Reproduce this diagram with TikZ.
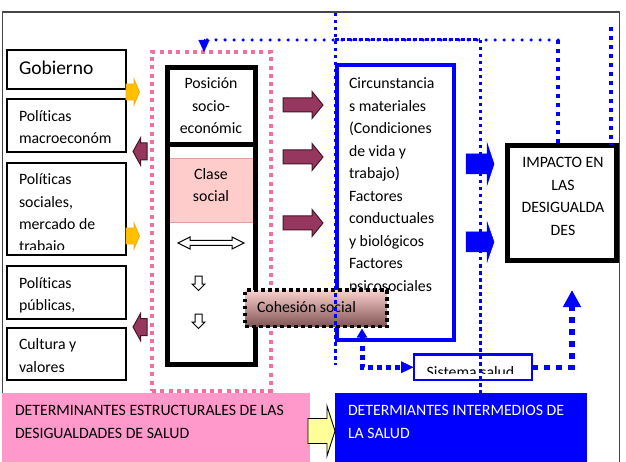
\documentclass[tikz,border=0pt]{standalone}
\usepackage{fontspec}
\setmainfont{Carlito}[Ligatures={NoCommon}]
\usetikzlibrary{arrows.meta,fit}
\definecolor{pinkdot}{RGB}{240,112,160}
\definecolor{clasefill}{RGB}{255,204,204}
\definecolor{claseedge}{RGB}{225,160,160}
\definecolor{mymaroon}{RGB}{150,55,95}
\definecolor{maroonedge}{RGB}{70,20,40}
\definecolor{goldarrow}{RGB}{255,192,0}
\definecolor{goldedge}{RGB}{250,170,30}
\definecolor{pinkbottom}{RGB}{255,153,204}
\definecolor{lightyellow}{RGB}{255,255,153}
\definecolor{cohtop}{RGB}{250,208,206}
\definecolor{cohbot}{RGB}{130,85,85}
\definecolor{framegray}{RGB}{70,70,70}
\newcommand\bodyfont{\fontsize{15.8}{22.5}\selectfont}
\newcommand\myblockarrow[7]{%
  \draw[#1] (#2,{#5-#6}) -- (#3,{#5-#6}) -- (#3,{#5-#7}) -- (#4,#5) -- (#3,{#5+#7}) -- (#3,{#5+#6}) -- (#2,{#5+#6}) -- cycle;}
\newcommand\mydownarrow[7]{%
  \draw[#1] ({#2-#6},#3) -- ({#2+#6},#3) -- ({#2+#6},#4) -- ({#2+#7},#4) -- (#2,#5) -- ({#2-#7},#4) -- ({#2-#6},#4) -- cycle;}
\tikzset{
  txt/.style={anchor=base west, inner sep=0pt, outer sep=0pt, font=\bodyfont},
  ctxt/.style={anchor=base, inner sep=0pt, outer sep=0pt, font=\bodyfont},
  boxfit/.style={inner sep=0pt, outer sep=0pt},
  lbox/.style={boxfit, draw=black, line width=1.2pt},
  sqdotA/.style={draw=blue, line width=3pt, dash pattern=on 3.5pt off 3.5pt},
  sqdotB/.style={draw=blue, line width=4pt, dash pattern=on 4pt off 5pt},
  rdot/.style={draw=blue, line width=3.5pt, line cap=round, dash pattern=on 0pt off 9pt},
  bigdot/.style={draw=blue, line width=5pt, dash pattern=on 5pt off 4pt},
  hugedot/.style={draw=blue, line width=5.5pt, dash pattern=on 6pt off 6pt},
  goldarr/.style={fill=goldarrow, draw=goldedge, line width=0.8pt},
  mararr/.style={fill=mymaroon, draw=maroonedge, line width=1pt},
  bluearr/.style={fill=blue, draw=blue, line width=0.5pt},
  whitearr/.style={fill=white, draw=black, line width=1pt}
}
\begin{document}
\begin{tikzpicture}[x=1pt,y=-1pt]
\useasboundingbox (0,0) rectangle (626,462);
\clip (0,0) rectangle (626,462);
% frame
\draw[framegray, line width=1.2pt] (2.5,475) -- (2.5,12) -- (619.5,12) -- (619.5,475);
% bottom boxes
\node[boxfit, fit={(2,393) (310,480)}, fill=pinkbottom] (estr) {};
\node[txt] (estrA) at (15,415.5) {DETERMINANTES ESTRUCTURALES DE LAS};
\node[txt] (estrB) at (15,438) {DESIGUALDADES DE SALUD};
\node[boxfit, fit={(335,393) (587,480)}, fill=blue] (inter) {};
\node[txt, text=white] (interA) at (348,415.5) {DETERMIANTES INTERMEDIOS DE};
\node[txt, text=white] (interB) at (348,438) {LA SALUD};
\myblockarrow{fill=lightyellow, draw=black, line width=0.9pt}{308}{327}{335}{431}{12.5}{25}
% left boxes
\node[lbox, fit={(7,50) (126,89)}] (gob) {};
\node[txt, font=\fontsize{19.5}{22}\selectfont] (gobT) at (19,75) {Gobierno};
\node[lbox, fit={(7,99) (126,152)}] (macro) {};
\node[txt] (macroA) at (19,121.5) {Políticas};
\node[txt] (macroB) at (19,144) {macroeconóm};
\node[lbox, fit={(7,163) (126,255)}] (soc) {};
\node[txt] (socA) at (19,185) {Políticas};
\node[txt] (socB) at (19,207.5) {sociales,};
\node[txt] (socC) at (19,229.5) {mercado de};
\begin{scope}
\clip (8,240) rectangle (125,249.5);
\node[txt] (socD) at (19,252) {trabajo};
\end{scope}
\node[lbox, fit={(7,266) (126,319)}] (pub) {};
\node[txt] (pubA) at (19,288) {Políticas};
\node[txt] (pubB) at (19,310.5) {públicas,};
\node[lbox, fit={(7,328) (126,380)}] (cult) {};
\node[txt] (cultA) at (19,349.5) {Cultura y};
\node[txt] (cultB) at (19,372) {valores};
% small arrows left
\myblockarrow{goldarr}{126}{134}{139.5}{92}{8}{13}
\myblockarrow{goldarr}{126}{134}{139.5}{236}{8}{13}
\myblockarrow{mararr}{147}{140.5}{133}{151.5}{8.5}{13.5}
\myblockarrow{mararr}{147}{140.5}{133}{327}{8.5}{13.5}
% pink dotted box
\node[boxfit, fit={(152,52) (270.5,391)}, draw=pinkdot, line width=4pt, dash pattern=on 4pt off 4.3pt] (pinkbox) {};
% black socioeconomic box
\node[boxfit, fit={(168,158) (255,222)}, fill=clasefill, draw=claseedge, line width=0.8pt] (clase) {};
\node[boxfit, fit={(167.5,67.5) (255.5,364.5)}, draw=black, line width=5pt] (ses) {};
\draw[line width=5pt] (167.5,145) -- (255.5,145);
\node[ctxt] (posA) at (211,89) {Posición};
\node[ctxt] (posB) at (211,111.5) {socio-};
\node[ctxt] (posC) at (211,134) {económic};
\node[ctxt] (claA) at (211,179.5) {Clase};
\node[ctxt] (claB) at (211,202) {social};
% double arrow and down arrows
\draw[whitearr] (178,243) -- (190,237) -- (190,240.5) -- (232,240.5) -- (232,237) -- (244,243) -- (232,249) -- (232,245.5) -- (190,245.5) -- (190,249) -- cycle;
\mydownarrow{whitearr}{198.5}{276}{284}{290.5}{3.5}{6.5}
\mydownarrow{whitearr}{198.5}{314}{322}{328.5}{3.5}{6.5}
% maroon right arrows
\myblockarrow{mararr}{283}{312}{323}{105}{7}{13.5}
\myblockarrow{mararr}{283}{312}{323}{157}{7}{13.5}
\myblockarrow{mararr}{283}{312}{323}{223}{7}{13.5}
% circumstances box
\node[boxfit, fit={(336.5,65.5) (453.7,340)}, draw=blue, line width=4pt] (circ) {};
\begin{scope}
\clip (339,68) rectangle (470,291.5);
\node[txt] (c1) at (349,89) {Circunstancia};
\node[txt] (c2) at (349,111.5) {s materiales};
\node[txt] (c3) at (349,134) {(Condiciones};
\node[txt] (c4) at (349,156.5) {de vida y};
\node[txt] (c5) at (349,179) {trabajo)};
\node[txt] (c6) at (349,201.5) {Factores};
\node[txt] (c7) at (349,224) {conductuales};
\node[txt] (c8) at (349,246.5) {y biológicos};
\node[txt] (c9) at (349,269) {Factores};
\node[txt] (c10) at (349,291.5) {psicosociales};
\end{scope}
% blue block arrows
\myblockarrow{bluearr}{466}{487}{494}{164}{10}{21}
\myblockarrow{bluearr}{466}{487}{494}{242}{10}{20}
% impact box
\node[boxfit, fit={(507.5,145.5) (616.5,261)}, draw=black, line width=5pt] (imp) {};
\node[ctxt] (impA) at (563,168) {IMPACTO EN};
\node[ctxt] (impB) at (563,190.5) {LAS};
\node[ctxt] (impC) at (563,213) {DESIGUALDA};
\node[ctxt] (impD) at (563,235.5) {DES};
% cohesion social
\node[boxfit, fit={(245,290) (387,326.5)}, top color=cohtop, middle color=cohtop!80!cohbot, bottom color=cohbot, draw=black, line width=3.5pt, dash pattern=on 3.5pt off 3.5pt] (coh) {};
\node[txt] (cohT) at (257,312) {Cohesión social};
% sistema salud
\node[boxfit, fit={(414,354.5) (532,380)}, draw=blue, line width=2.5pt, fill=white] (sis) {};
\begin{scope}
\clip (416,356) rectangle (530,373.5);
\node[ctxt] (sisT) at (470.5,377) {Sistema salud};
\end{scope}
% dotted connectors
\coordinate (tl) at (204,40);
\coordinate (tr) at (558,40);
\coordinate (ta) at (335,40);
\coordinate (tb) at (480,40);
\coordinate (v1top) at (335,13);
\coordinate (v1bot) at (335,365);
\coordinate (v2bot) at (480,393);
\coordinate (v4top) at (611,27);
\coordinate (cohup) at (362,328.5);
\coordinate (rightup) at (572,290);
\draw[rdot] (tr) -- (tl);
\draw[blue, line width=0.2pt, -{Triangle[width=11pt,length=12pt]}] ([yshift=1pt]tl) -- (tl |- pinkbox.north);
\draw[sqdotA, dash pattern=on 4pt off 2pt] (ta) -- (tb);
\draw[sqdotA] (v1top) -- (v1bot);
\draw[sqdotA] (tb) -- (v2bot);
\draw[sqdotB] (tr) -- (tr |- imp.north);
\draw[sqdotB] (v4top) -- (v4top |- imp.north);
\draw[bigdot, {Triangle[width=10pt,length=9pt]}-{Triangle[width=11pt,length=13pt]}] (cohup) |- (sis.west);
\draw[hugedot, -{Triangle[width=17pt,length=17pt]}] (sis.east) -| (rightup);
\end{tikzpicture}
\end{document}
